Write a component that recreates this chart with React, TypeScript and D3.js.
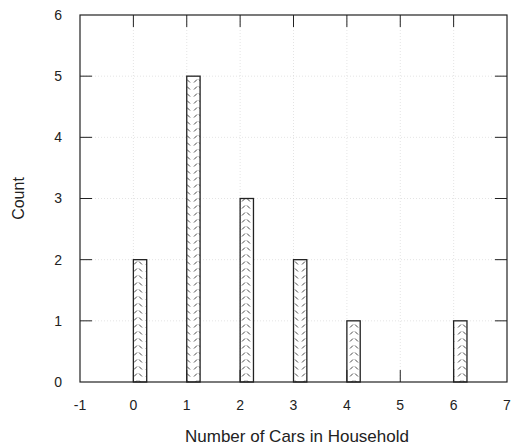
import React, { useEffect, useRef } from "react";
import * as d3 from "d3";

// Data
const cars = [0, 1, 2, 3, 4, 5, 6];
const counts = [2, 5, 3, 2, 1, 0, 1];
const xTicks = [-1, 0, 1, 2, 3, 4, 5, 6, 7];
const yTicks = [0, 1, 2, 3, 4, 5, 6];

const App = () => {
  const svgRef = useRef<SVGSVGElement>(null);

  useEffect(() => {
    const width = 512;
    const height = 448;
    const left = 80;
    const right = 507;
    const top = 15;
    const bottom = 382;
    const font = "'Liberation Sans', Arial, Helvetica, sans-serif";

    const x = d3.scaleLinear().domain([-1, 7]).range([left, right]);
    const y = d3.scaleLinear().domain([0, 6]).range([bottom, top]);

    const svg = d3.select(svgRef.current)
      .attr("width", width)
      .attr("height", height)
      .attr("viewBox", `0 0 ${width} ${height}`)
      .style("position", "absolute")
      .style("left", "0px")
      .style("top", "0px");

    svg.selectAll("*").remove();

    // hatch pattern (gnuplot style small zigzag dashes)
    const pat = svg.append("defs").append("pattern")
      .attr("id", "hatch")
      .attr("patternUnits", "userSpaceOnUse")
      .attr("width", 12)
      .attr("height", 7);
    pat.append("rect").attr("width", 12).attr("height", 7).attr("fill", "white");
    pat.append("path")
      .attr("d", "M2,5.5 L5,2.5 M7,2.5 L10,5.5")
      .attr("stroke", "#333")
      .attr("stroke-width", 0.9)
      .attr("fill", "none");

    // grid
    const grid = svg.append("g")
      .attr("stroke", "#ddd")
      .attr("stroke-width", 0.8)
      .attr("stroke-dasharray", "1,2");
    grid.selectAll("line.gy")
      .data(yTicks.filter(d => d > 0 && d < 6))
      .join("line")
      .attr("x1", left).attr("x2", right)
      .attr("y1", d => y(d)).attr("y2", d => y(d));
    grid.selectAll("line.gx")
      .data(xTicks.filter(d => d > -1 && d < 7))
      .join("line")
      .attr("x1", d => x(d)).attr("x2", d => x(d))
      .attr("y1", top).attr("y2", bottom);

    // bars
    const bw = x(0.25) - x(0);
    svg.append("g")
      .selectAll("rect")
      .data(cars.map((c, i) => ({ c, n: counts[i] })).filter(d => d.n > 0))
      .join("rect")
      .attr("x", d => x(d.c))
      .attr("y", d => y(d.n))
      .attr("width", bw)
      .attr("height", d => y(0) - y(d.n))
      .attr("fill", "url(#hatch)")
      .attr("stroke", "#222")
      .attr("stroke-width", 1.3);

    // ticks (mirrored on all sides)
    const ticks = svg.append("g").attr("stroke", "#222").attr("stroke-width", 1);
    const tl = 12;
    yTicks.filter(d => d > 0 && d < 6).forEach(d => {
      ticks.append("line").attr("x1", left).attr("x2", left + tl).attr("y1", y(d)).attr("y2", y(d));
      ticks.append("line").attr("x1", right).attr("x2", right - tl).attr("y1", y(d)).attr("y2", y(d));
    });
    xTicks.filter(d => d > -1 && d < 7).forEach(d => {
      ticks.append("line").attr("x1", x(d)).attr("x2", x(d)).attr("y1", bottom).attr("y2", bottom - tl);
      ticks.append("line").attr("x1", x(d)).attr("x2", x(d)).attr("y1", top).attr("y2", top + tl);
    });

    // frame
    svg.append("rect")
      .attr("x", left).attr("y", top)
      .attr("width", right - left).attr("height", bottom - top)
      .attr("fill", "none")
      .attr("stroke", "#222")
      .attr("stroke-width", 1.2);

    // tick labels
    svg.append("g")
      .selectAll("text")
      .data(yTicks)
      .join("text")
      .attr("x", 62)
      .attr("y", d => y(d))
      .attr("dy", "0.35em")
      .attr("text-anchor", "end")
      .attr("font-family", font)
      .attr("font-size", 14)
      .attr("fill", "#222")
      .text(d => d);

    svg.append("g")
      .selectAll("text")
      .data(xTicks)
      .join("text")
      .attr("x", d => x(d))
      .attr("y", 405)
      .attr("dy", "0.35em")
      .attr("text-anchor", "middle")
      .attr("font-family", font)
      .attr("font-size", 14)
      .attr("fill", "#222")
      .text(d => d);

    // axis titles
    svg.append("text")
      .attr("x", 297)
      .attr("y", 442)
      .attr("text-anchor", "middle")
      .attr("font-family", font)
      .attr("font-size", 17)
      .attr("fill", "#222")
      .text("Number of Cars in Household");

    svg.append("text")
      .attr("transform", `translate(24,${(top + bottom) / 2}) rotate(-90)`)
      .attr("text-anchor", "middle")
      .attr("font-family", font)
      .attr("font-size", 16)
      .attr("fill", "#222")
      .text("Count");
  }, []);

  return <svg ref={svgRef}></svg>;
};

export default App;
